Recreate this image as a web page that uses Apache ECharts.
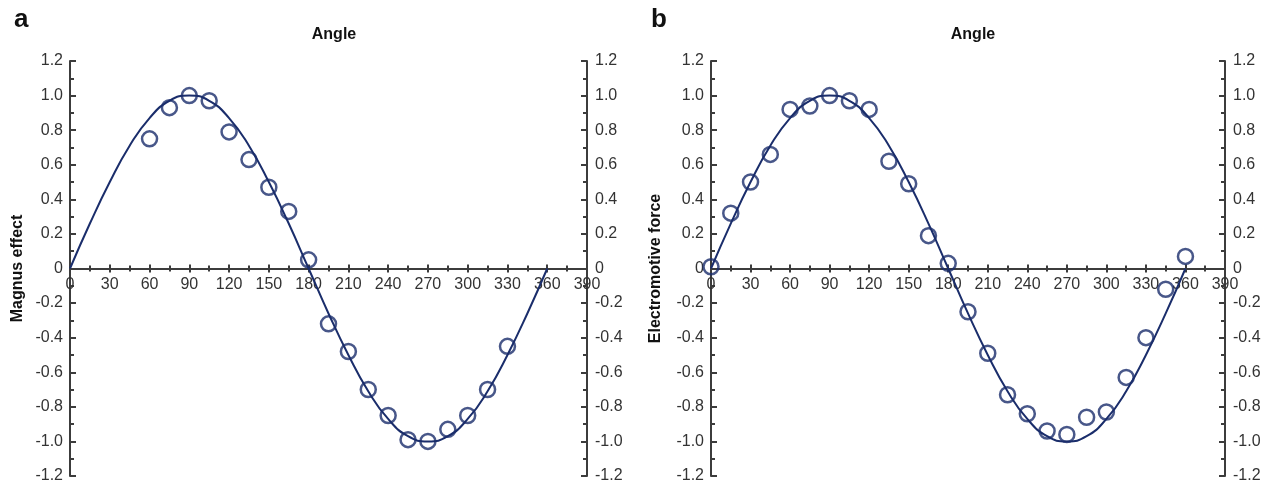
<!DOCTYPE html>
<html>
<head>
<meta charset="utf-8">
<script src="https://cdn.jsdelivr.net/npm/echarts@6/dist/echarts.min.js"></script>
<style>
  html, body { margin: 0; padding: 0; background: #fff; }
  #main { width: 1274px; height: 487px; }
</style>
</head>
<body>
<div id="main"></div>
<script>
// fitted curve, every 15 degrees
var curveAngles = [0, 15, 30, 45, 60, 75, 90, 105, 120, 135, 150, 165, 180,
                   195, 210, 225, 240, 255, 270, 285, 300, 315, 330, 345, 360];
var curveA = [0, 0.26, 0.5, 0.71, 0.87, 0.97, 1.0, 0.97, 0.87, 0.71, 0.5, 0.26, 0,
              -0.26, -0.5, -0.71, -0.87, -0.97, -1.0, -0.97, -0.87, -0.71, -0.5, -0.26, 0];
var curveB = [0, 0.26, 0.5, 0.71, 0.87, 0.97, 1.0, 0.97, 0.87, 0.71, 0.5, 0.26, 0,
              -0.26, -0.5, -0.71, -0.87, -0.97, -1.0, -0.97, -0.87, -0.71, -0.5, -0.26, 0];

// measured points, panel a
var anglesA = [60, 75, 90, 105, 120, 135, 150, 165, 180, 195, 210, 225, 240, 255, 270, 285, 300, 315, 330];
var magnus = [0.75, 0.93, 1.0, 0.97, 0.79, 0.63, 0.47, 0.33, 0.05, -0.32, -0.48, -0.70, -0.85, -0.99, -1.0, -0.93, -0.85, -0.70, -0.45];

// measured points, panel b
var anglesB = [0, 15, 30, 45, 60, 75, 90, 105, 120, 135, 150, 165, 180,
               195, 210, 225, 240, 255, 270, 285, 300, 315, 330, 345, 360];
var emf = [0.01, 0.32, 0.50, 0.66, 0.92, 0.94, 1.0, 0.97, 0.92, 0.62, 0.49, 0.19, 0.03,
           -0.25, -0.49, -0.73, -0.84, -0.94, -0.96, -0.86, -0.83, -0.63, -0.40, -0.12, 0.07];

var navy = '#1a2d6b';
var axisGrey = '#3c3c3c';
var labelGrey = '#333';
var font = "'Liberation Sans', Arial, sans-serif";

function pairs(xs, ys) {
    return xs.map(function (x, i) { return [x, ys[i]]; });
}

function yFmt(v) {
    return v === 0 ? '0' : v.toFixed(1);
}

// x axes: a hidden one on the full plot grid, and two drawn ones on the upper-half grid
// (bottom edge of that grid is the zero line) so the ticks cross the line
function xAxes(fullGrid, halfGrid) {
    var base = {
        type: 'value', min: 0, max: 390, interval: 30,
        splitLine: { show: false }
    };
    var line = { show: true, onZero: false, lineStyle: { color: axisGrey, width: 2 } };
    return [
        Object.assign({}, base, { gridIndex: fullGrid, show: false }),
        Object.assign({}, base, {
            gridIndex: halfGrid, position: 'bottom', axisLine: line,
            axisTick: { show: true, inside: false, length: 4, lineStyle: { color: axisGrey, width: 2 } },
            minorTick: { show: true, splitNumber: 2, length: 3, lineStyle: { color: axisGrey, width: 2 } },
            axisLabel: { show: true, margin: 8, color: labelGrey, fontSize: 16, fontFamily: font,
                         showMinLabel: true, showMaxLabel: true, hideOverlap: false }
        }),
        Object.assign({}, base, {
            gridIndex: halfGrid, position: 'bottom', axisLine: line,
            axisTick: { show: true, inside: true, length: 4, lineStyle: { color: axisGrey, width: 2 } },
            minorTick: { show: true, splitNumber: 2, length: 3, lineStyle: { color: axisGrey, width: 2 } },
            axisLabel: { show: false }
        })
    ];
}

function yAxes(fullGrid, halfGrid, name, gap) {
    var base = {
        type: 'value', gridIndex: fullGrid, min: -1.2, max: 1.2, interval: 0.2,
        splitLine: { show: false },
        axisLine: { show: true, onZero: false, lineStyle: { color: axisGrey, width: 2 } },
        axisTick: { show: true, inside: true, length: 6, lineStyle: { color: axisGrey, width: 2 } },
        minorTick: { show: true, splitNumber: 2, length: 4, lineStyle: { color: axisGrey, width: 2 } }
    };
    return [
        Object.assign({}, base, {
            position: 'left',
            name: name, nameLocation: 'middle', nameGap: gap, nameMoveOverlap: false,
            nameTextStyle: { color: '#111', fontSize: 16, fontWeight: 'bold', fontFamily: font },
            axisLabel: { margin: 7, color: labelGrey, fontSize: 16, fontFamily: font, formatter: yFmt }
        }),
        Object.assign({}, base, {
            position: 'right',
            axisLabel: { margin: 8, color: labelGrey, fontSize: 16, fontFamily: font, formatter: yFmt }
        }),
        { type: 'value', gridIndex: halfGrid, min: 0, max: 1.2, show: false }
    ];
}

function curveSeries(xIdx, yIdx, ys) {
    return {
        type: 'line', xAxisIndex: xIdx, yAxisIndex: yIdx,
        data: pairs(curveAngles, ys), smooth: true, showSymbol: false,
        lineStyle: { color: navy, width: 2 }, z: 2
    };
}

function pointSeries(xIdx, yIdx, xs, ys) {
    return {
        type: 'scatter', xAxisIndex: xIdx, yAxisIndex: yIdx,
        data: pairs(xs, ys), symbol: 'circle', symbolSize: 15,
        itemStyle: { color: 'rgba(0,0,0,0)', borderColor: navy, borderWidth: 2.5 }, z: 3
    };
}

var myChart = echarts.init(document.getElementById('main'));

var option = {
    animation: false,
    backgroundColor: '#fff',
    title: [
        { text: 'a', left: 9, top: 2, textStyle: { fontSize: 26, fontWeight: 'bold', color: '#111', fontFamily: font } },
        { text: 'b', left: 646, top: 2, textStyle: { fontSize: 26, fontWeight: 'bold', color: '#111', fontFamily: font } },
        { text: 'Angle', left: 329, top: 22, textAlign: 'center',
          textStyle: { fontSize: 16, fontWeight: 'bold', color: '#111', fontFamily: font } },
        { text: 'Angle', left: 968, top: 22, textAlign: 'center',
          textStyle: { fontSize: 16, fontWeight: 'bold', color: '#111', fontFamily: font } }
    ],
    grid: [
        { left: 70, width: 517, top: 61, height: 415, outerBoundsMode: 'none' },
        { left: 70, width: 517, top: 61, height: 207.5, outerBoundsMode: 'none' },
        { left: 711, width: 514, top: 61, height: 415, outerBoundsMode: 'none' },
        { left: 711, width: 514, top: 61, height: 207.5, outerBoundsMode: 'none' }
    ],
    xAxis: xAxes(0, 1).concat(xAxes(2, 3)),
    yAxis: yAxes(0, 1, 'Magnus effect', 44).concat(yAxes(2, 3, 'Electromotive force', 47)),
    series: [
        curveSeries(0, 0, curveA),
        pointSeries(0, 0, anglesA, magnus),
        curveSeries(3, 3, curveB),
        pointSeries(3, 3, anglesB, emf)
    ]
};

myChart.setOption(option);
</script>
</body>
</html>
